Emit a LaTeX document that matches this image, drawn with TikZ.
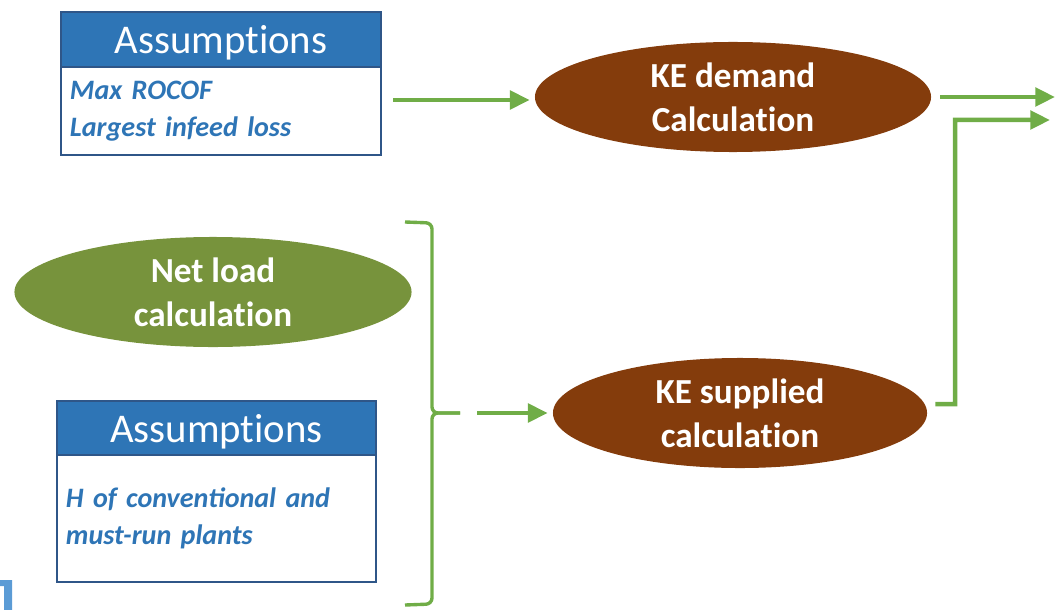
\documentclass[tikz,border=0pt]{standalone}
\usepackage{fontspec}
\setmainfont{Carlito}
\usepackage{tikz}
\usetikzlibrary{arrows.meta,shapes.geometric}
\definecolor{hdrblue}{HTML}{2E75B6}
\definecolor{edgeblue}{HTML}{2F5688}
\definecolor{lightblue}{HTML}{5B9BD5}
\definecolor{calcbrown}{HTML}{843C0C}
\definecolor{loadgreen}{HTML}{77933C}
\definecolor{flowgreen}{HTML}{70AD47}

\begin{document}
\begin{tikzpicture}[x=0.025cm, y=-0.025cm,
	hdr/.style={draw=edgeblue, line width=1.4pt, fill=hdrblue, text=white, inner sep=0pt, text depth=0pt,
		font=\fontsize{29}{34}\selectfont},
	bodybox/.style={draw=edgeblue, line width=1.4pt, fill=white, text=hdrblue, inner xsep=0.225cm,
		align=left, font=\fontsize{20}{26}\selectfont\bfseries\itshape},
	calc/.style={ellipse, fill=#1, text=white, inner sep=0pt, minimum height=2.75cm, align=center,
		font=\fontsize{25}{31}\selectfont\bfseries},
	flow/.style={line width=3.2pt, color=flowgreen, -{Triangle[length=14pt,width=13pt]}},
	brace/.style={line width=2.4pt, color=flowgreen, rounded corners=0.15cm}]
	\useasboundingbox (0,0) rectangle (1063,610);
	\node[hdr, minimum width=8cm, minimum height=1.375cm] (asmhead) at (221,39.5) {Assumpt\kern0pt ions};
	\node[bodybox, minimum width=8cm, minimum height=2.2cm, text width=7.55cm] (asmbody) at (221,111) {Max ROCOF\\Largest infeed loss};
	\node[calc=calcbrown, minimum width=9.9cm] (demand) at (733,97) {KE demand\\Calculat\kern0pt ion};
	\node[calc=loadgreen, minimum width=9.925cm] (netload) at (213,292) {Net load\\calculat\kern0pt ion};
	\node[hdr, minimum width=7.975cm, minimum height=1.35cm] (hhead) at (216.5,428) {Assumpt\kern0pt ions};
	\node[bodybox, minimum width=7.975cm, minimum height=3.175cm, text width=7.525cm] (hbody) at (216.5,518.5) {H of conventional and\\must-run plants};
	\node[calc=calcbrown, minimum width=9.35cm] (supplied) at (740,413) {KE supplied\\calculat\kern0pt ion};
	\coordinate (asmout) at (393,100);
	\coordinate (bracetip) at (460,413);
	\coordinate (out1) at (1055,97);
	\coordinate (out2) at (1050,120);
	\draw[brace] (405,222) -- (432,223) -- (432,413) -- (bracetip);
	\draw[brace] (405,605) -- (432,604) -- (432,413) -- (bracetip);
	\draw[flow, shorten >=0.125cm] (asmout) -- (asmout -| demand.west);
	\draw[flow, shorten >=0.125cm] ([xshift=0.425cm]bracetip) -- (supplied.west);
	\draw[flow, shorten <=0.225cm] (demand.east) -- (out1);
	\draw[flow] ([shift={(0.2cm,0.225cm)}]supplied.east) -- (955,404) -- (955,120) -- (out2);
	\fill[lightblue] (0,580) -- (12,580) -- (12,610) -- (4,610) -- (4,586) -- (0,586) -- cycle;
\end{tikzpicture}
\end{document}
